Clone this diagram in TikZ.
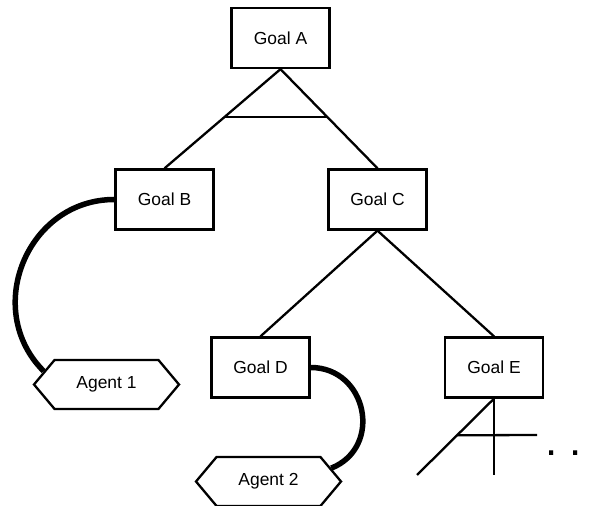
\documentclass[tikz,border=0pt]{standalone}
\usepackage{fontspec}
\setmainfont{Liberation Sans}
\usetikzlibrary{shapes.symbols, calc}

\begin{document}
\begin{tikzpicture}[x=1bp, y=1bp, line width=2.3bp,
    goal/.style={draw, rectangle, minimum width=98bp, minimum height=60bp,
      inner sep=0pt, font=\fontsize{17.5}{20}\selectfont},
    agent/.style={draw, signal, signal to=east and west, signal pointer angle=100,
      minimum width=145bp, minimum height=49bp, inner sep=0pt,
      font=\fontsize{17.5}{20}\selectfont},
    tie/.style={line width=5.5bp}]
    \useasboundingbox (0,0) rectangle (596,506);
    % ゴール
    \node[goal] (goalA) at (280.5,468) {Goal A};
    \node[goal] (goalB) at (164.5,306.5) {Goal B};
    \node[goal] (goalC) at (377.5,306.5) {Goal C};
    \node[goal] (goalD) at (260.5,138.5) {Goal D};
    \node[goal] (goalE) at (494,138.5) {Goal E};
    % エージェント
    \node[agent] (agent1) at (106.5,121.5) {Agent 1};
    \node[agent] (agent2) at (268.5,24.5) {Agent 2};
    % AND 分解
    \draw (goalA.south) -- (goalB.north);
    \draw (goalA.south) -- (goalC.north);
    \draw ($(goalA.south)!0.48!(goalB.north)$) -- ($(goalA.south)!0.48!(goalC.north)$);
    % OR 分解
    \draw (goalC.south) -- (goalD.north);
    \draw (goalC.south) -- (goalE.north);
    % 割り当て
    \draw[tie] (goalB.west) to[out=180, in=135, looseness=1.2] (agent1.168);
    \draw[tie] (goalD.east) to[out=0, in=22, looseness=1.4] (agent2.12);
    % Goal E の続き
    \coordinate (forkL) at (417,31);
    \coordinate (forkM) at (494,31);
    \coordinate (barE) at (537,71);
    \draw (goalE.south) -- (forkL);
    \draw (goalE.south) -- (forkM);
    \draw ($(goalE.south)!0.48!(forkL)$) -- (barE);
    \node[anchor=base, font=\fontsize{44}{44}\selectfont, inner sep=0pt] (dots) at (563.5,50) {.\hspace{12.5bp}.};
  \end{tikzpicture}
\end{document}
